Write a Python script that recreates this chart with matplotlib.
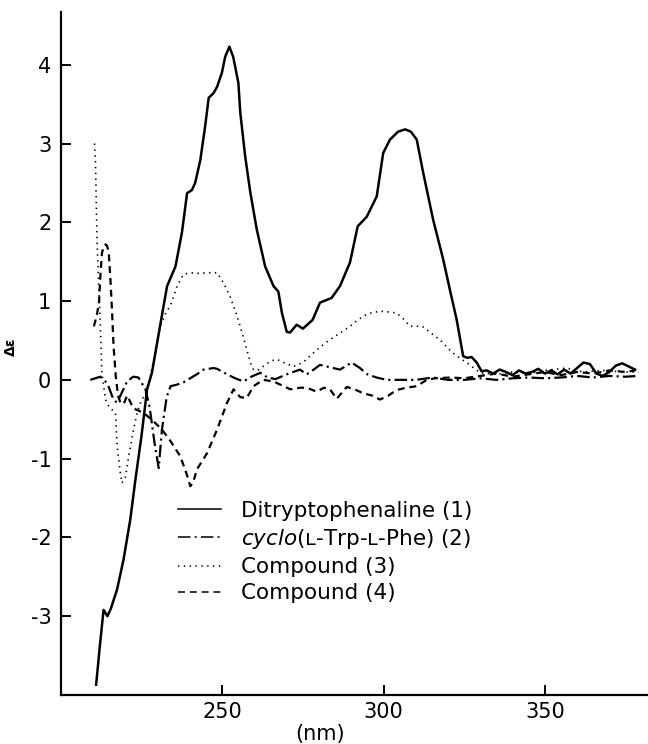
import matplotlib
matplotlib.use("Agg")
import matplotlib.pyplot as plt

plt.rcParams['font.family'] = ['DejaVu Sans']
plt.rcParams['axes.unicode_minus'] = False
plt.rcParams['lines.scale_dashes'] = False

# 1. DATA
# Ditryptophenaline (1) - solid
lam1 = [210.9, 212.0, 213.2, 214.4, 215.5, 217.4, 219.4, 221.5, 223.0, 225.0,
        226.7, 228.2, 230.7, 232.9, 235.5, 237.5, 239.1, 240.6, 241.6, 243.2,
        244.7, 245.8, 247.3, 248.4, 249.9, 250.9, 252.2, 253.4, 255.0, 255.6,
        257.1, 258.7, 260.7, 263.3, 265.9, 267.4, 268.5, 270.0, 271.0, 273.1,
        275.0, 278.0, 280.3, 283.9, 286.5, 289.6, 292.0, 294.8, 297.9, 299.9,
        302.0, 304.5, 306.7, 308.5, 310.3, 312.3, 315.4, 318.5, 320.6, 322.7,
        324.7, 326.0, 327.3, 328.9, 330.4, 332.0, 334.0, 336.0, 338.0, 340.0,
        342.0, 344.0, 346.0, 348.0, 350.0, 352.0, 354.0, 356.0, 358.0, 360.0,
        362.0, 364.0, 366.0, 368.0, 370.0, 372.0, 374.0, 376.0, 378.0]
eps1 = [-3.87, -3.40, -2.92, -3.00, -2.90, -2.66, -2.28, -1.77, -1.29, -0.70,
        -0.12, 0.09, 0.68, 1.19, 1.44, 1.87, 2.37, 2.41, 2.50, 2.79,
        3.22, 3.58, 3.64, 3.72, 3.90, 4.10, 4.23, 4.10, 3.77, 3.39,
        2.84, 2.38, 1.91, 1.44, 1.19, 1.12, 0.85, 0.61, 0.60, 0.70,
        0.65, 0.76, 0.98, 1.04, 1.19, 1.49, 1.95, 2.07, 2.33, 2.88,
        3.05, 3.15, 3.18, 3.15, 3.05, 2.63, 2.03, 1.53, 1.14, 0.76,
        0.30, 0.28, 0.29, 0.22, 0.11, 0.12, 0.08, 0.13, 0.10, 0.06,
        0.12, 0.08, 0.10, 0.14, 0.08, 0.12, 0.07, 0.13, 0.08, 0.15,
        0.22, 0.20, 0.08, 0.05, 0.10, 0.18, 0.21, 0.17, 0.13]

# cyclo(L-Trp-L-Phe) (2) - dash-dot
lam2 = [209.1, 212.2, 214.3, 216.3, 217.4, 218.9, 220.5, 222.4, 224.0, 226.2,
        227.5, 229.0, 230.3, 231.3, 232.8, 234.0, 236.0, 238.0, 242.1, 244.2,
        247.3, 248.4, 251.5, 254.0, 256.6, 259.0, 261.8, 264.0, 266.5, 270.0,
        272.0, 274.1, 276.2, 278.0, 280.3, 283.4, 286.5, 290.1, 292.7, 295.0,
        297.8, 301.0, 305.0, 310.0, 315.3, 320.0, 325.0, 330.0, 335.0, 340.0,
        345.0, 350.0, 355.0, 360.0, 365.0, 370.0, 375.0, 379.0]
eps2 = [0.00, 0.04, -0.04, -0.25, -0.29, -0.16, -0.02, 0.04, 0.03, -0.12,
        -0.35, -0.80, -1.12, -0.63, -0.21, -0.08, -0.06, -0.03, 0.07, 0.13,
        0.15, 0.14, 0.07, 0.02, -0.02, 0.04, 0.09, 0.03, 0.01, 0.07,
        0.10, 0.13, 0.07, 0.12, 0.19, 0.16, 0.13, 0.22, 0.15, 0.07,
        0.03, 0.00, 0.00, 0.00, 0.03, 0.00, 0.00, 0.02, 0.00, 0.02,
        0.03, 0.02, 0.03, 0.05, 0.03, 0.05, 0.04, 0.05]

# Compound (3) - dotted
lam3 = [210.4, 210.7, 211.2, 211.7, 212.2, 212.7, 213.8, 215.0, 216.9, 217.4,
        218.4, 218.9, 220.0, 221.0, 222.5, 223.6, 225.0, 226.0, 227.7, 229.2,
        230.8, 232.5, 234.0, 236.0, 238.0, 240.0, 243.0, 245.0, 248.4, 250.4,
        252.5, 254.6, 256.5, 258.7, 259.7, 261.0, 263.0, 265.0, 266.9, 269.0,
        272.0, 275.0, 279.3, 283.0, 286.0, 289.6, 292.0, 294.7, 297.0, 299.8,
        302.0, 304.0, 306.0, 308.2, 310.0, 312.0, 314.5, 317.5, 320.0, 321.6,
        323.5, 325.8, 328.0, 330.0, 335.0, 340.0, 345.0, 350.0, 356.7, 362.0,
        368.0, 374.0, 379.0]
eps3 = [3.00, 2.75, 1.74, 1.20, 0.68, 0.09, -0.25, -0.35, -0.42, -0.84,
        -1.18, -1.31, -1.23, -0.97, -0.63, -0.42, -0.25, -0.20, 0.04, 0.35,
        0.68, 0.85, 0.95, 1.19, 1.34, 1.36, 1.35, 1.36, 1.36, 1.23,
        1.05, 0.81, 0.55, 0.22, 0.13, 0.12, 0.18, 0.24, 0.26, 0.22,
        0.17, 0.22, 0.38, 0.50, 0.58, 0.68, 0.76, 0.83, 0.86, 0.87,
        0.86, 0.85, 0.78, 0.68, 0.68, 0.68, 0.60, 0.51, 0.40, 0.34,
        0.28, 0.22, 0.15, 0.09, 0.07, 0.10, 0.08, 0.12, 0.15, 0.10,
        0.12, 0.10, 0.10]

# Compound (4) - dashed
lam4 = [210.2, 211.0, 211.8, 212.2, 212.7, 213.3, 213.8, 214.3, 214.8, 215.3,
        215.8, 216.3, 217.0, 217.7, 218.5, 219.5, 220.5, 221.5, 222.4, 225.6,
        228.0, 231.3, 234.0, 237.0, 239.0, 240.1, 241.0, 242.1, 245.3, 248.4,
        251.5, 253.5, 255.6, 257.6, 259.7, 262.7, 265.9, 269.0, 271.1, 274.1,
        276.2, 279.3, 281.5, 283.4, 285.5, 288.6, 291.0, 293.7, 296.5, 298.9,
        301.5, 304.0, 307.0, 310.3, 313.4, 316.0, 320.6, 325.0, 330.0, 335.0,
        340.0, 345.0, 350.0, 355.0, 360.0, 365.0, 370.0, 375.0, 378.0]
eps4 = [0.68, 0.80, 0.98, 1.31, 1.61, 1.70, 1.72, 1.70, 1.62, 1.30,
        0.90, 0.43, 0.04, -0.20, -0.30, -0.30, -0.20, -0.28, -0.36, -0.42,
        -0.50, -0.63, -0.78, -0.97, -1.20, -1.35, -1.30, -1.14, -0.93, -0.63,
        -0.29, -0.12, -0.22, -0.23, -0.08, 0.00, -0.02, -0.08, -0.12, -0.10,
        -0.10, -0.15, -0.10, -0.12, -0.24, -0.09, -0.12, -0.17, -0.20, -0.25,
        -0.20, -0.13, -0.10, -0.08, 0.00, 0.02, 0.03, 0.02, 0.05, 0.08,
        0.04, 0.07, 0.10, 0.06, 0.10, 0.08, 0.12, 0.10, 0.12]

labels = ["Ditryptophenaline (1)",
          r"$\it{cyclo}$(ʟ-Trp-ʟ-Phe) (2)",
          "Compound (3)",
          "Compound (4)"]

x_ticks = [250, 300, 350]
y_ticks = [-3, -2, -1, 0, 1, 2, 3, 4]

# 2. FIGURE
fig = plt.figure(figsize=(6.48, 7.44), dpi=100)
ax = fig.add_axes([0.0941, 0.0659, 0.9059, 0.918])

ax.plot(lam1, eps1, color="black", lw=1.8, label=labels[0])
ax.plot(lam2, eps2, color="black", lw=1.6, dashes=(9, 3, 1.5, 3), label=labels[1])
ax.plot(lam3, eps3, color="black", lw=1.2, dashes=(1, 3.2), label=labels[2])
ax.plot(lam4, eps4, color="black", lw=1.6, dashes=(5, 3.5), label=labels[3])

ax.set_xlim(200, 382)
ax.set_ylim(-4.0, 4.67)
ax.set_xticks(x_ticks)
ax.set_yticks(y_ticks)

for s in ["top", "right"]:
    ax.spines[s].set_visible(False)
for s in ["left", "bottom"]:
    ax.spines[s].set_linewidth(1.6)

ax.tick_params(direction="in", length=7, width=1.4, labelsize=15, pad=5)
ax.tick_params(axis="y", pad=7)

ax.set_ylabel("Δε", fontsize=10, fontweight="bold")
ax.yaxis.set_label_coords(-0.073, 0.51)
ax.text(0.441, -0.057, "(nm)", transform=ax.transAxes, fontsize=15,
        ha="center", va="center")

leg = ax.legend(loc="upper left", bbox_to_anchor=(0.199, 0.284), frameon=False,
                fontsize=15.5, handlelength=2.0, handletextpad=0.95,
                labelspacing=0.28, borderpad=0, borderaxespad=0)
for h in leg.get_lines():
    h.set_linewidth(1.1)

plt.savefig("out.png", dpi=100)
